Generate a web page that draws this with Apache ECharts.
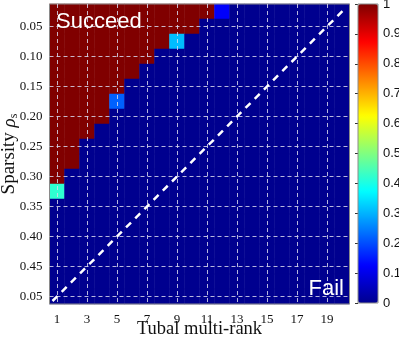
<!DOCTYPE html>
<html><head><meta charset="utf-8">
<script src="https://cdn.jsdelivr.net/npm/echarts@6/dist/echarts.min.js"></script>
<style>html,body{margin:0;padding:0;background:#fff}#c{width:399px;height:337px}</style>
</head><body><div id="c"></div>
<script>
// Tubal multi-rank (columns)
var rankCategories = ['1','2','3','4','5','6','7','8','9','10','11','12','13','14','15','16','17','18','19','20'];
// Sparsity rho_s (rows, top to bottom)
var sparsityCategories = ['0.025','0.05','0.075','0.10','0.125','0.15','0.175','0.20','0.225','0.25','0.275','0.30','0.325','0.35','0.375','0.40','0.425','0.45','0.475','0.50'];
// tick labels shown on the y axis (as printed in the figure)
var sparsityTickLabels = {'0.05':'0.05','0.10':'0.10','0.15':'0.15','0.20':'0.20','0.25':'0.25','0.30':'0.30','0.35':'0.35','0.40':'0.40','0.45':'0.45','0.50':'0.05'};
var rankTickCategories = ['1','3','5','7','9','11','13','15','17','19'];
var sparsityGridCategories = ['0.05','0.10','0.15','0.20','0.25','0.30','0.35','0.40','0.45','0.50'];
// success rate, one row per sparsity value, one entry per rank
var successRate = [
  [1,1,1,1,1,1,1,1,1,1,1,0.12,0,0,0,0,0,0,0,0],
  [1,1,1,1,1,1,1,1,1,1,0,0,0,0,0,0,0,0,0,0],
  [1,1,1,1,1,1,1,1,0.31,0,0,0,0,0,0,0,0,0,0,0],
  [1,1,1,1,1,1,1,0,0,0,0,0,0,0,0,0,0,0,0,0],
  [1,1,1,1,1,1,0,0,0,0,0,0,0,0,0,0,0,0,0,0],
  [1,1,1,1,1,0,0,0,0,0,0,0,0,0,0,0,0,0,0,0],
  [1,1,1,1,0.22,0,0,0,0,0,0,0,0,0,0,0,0,0,0,0],
  [1,1,1,1,0,0,0,0,0,0,0,0,0,0,0,0,0,0,0,0],
  [1,1,1,0,0,0,0,0,0,0,0,0,0,0,0,0,0,0,0,0],
  [1,1,0,0,0,0,0,0,0,0,0,0,0,0,0,0,0,0,0,0],
  [1,1,0,0,0,0,0,0,0,0,0,0,0,0,0,0,0,0,0,0],
  [1,0,0,0,0,0,0,0,0,0,0,0,0,0,0,0,0,0,0,0],
  [0.42,0,0,0,0,0,0,0,0,0,0,0,0,0,0,0,0,0,0,0],
  [0,0,0,0,0,0,0,0,0,0,0,0,0,0,0,0,0,0,0,0],
  [0,0,0,0,0,0,0,0,0,0,0,0,0,0,0,0,0,0,0,0],
  [0,0,0,0,0,0,0,0,0,0,0,0,0,0,0,0,0,0,0,0],
  [0,0,0,0,0,0,0,0,0,0,0,0,0,0,0,0,0,0,0,0],
  [0,0,0,0,0,0,0,0,0,0,0,0,0,0,0,0,0,0,0,0],
  [0,0,0,0,0,0,0,0,0,0,0,0,0,0,0,0,0,0,0,0],
  [0,0,0,0,0,0,0,0,0,0,0,0,0,0,0,0,0,0,0,0]
];
// diagonal reference line (fraction of plot)
var diagX = [0.01, 0.99];
var diagY = [0.01, 0.99];
var jetColors = ['#00008f','#0000ff','#0080ff','#00ffff','#80ff80','#ffff00','#ff8000','#ff0000','#800000'];

var heatData = [];
successRate.forEach(function(row, r){
  row.forEach(function(v, c){ heatData.push([c, r, v]); });
});

var chart = echarts.init(document.getElementById('c'));
var gridLine = {type:[4,3], color:'rgba(215,215,235,0.85)', width:1};
var serif = 'Liberation Serif';
chart.setOption({
  animation:false,
  grid:[
    {left:49.5, top:4, width:300, height:300, show:true, borderColor:'#8a8a8a', borderWidth:1, z:5, backgroundColor:'transparent', containLabel:false, outerBoundsMode:'none'},
    {left:358, top:4, width:20, height:299, show:true, borderColor:'#8a8a8a', borderWidth:1, z:5, backgroundColor:'transparent', containLabel:false, outerBoundsMode:'none'}
  ],
  xAxis:[
    {type:'category', gridIndex:0, data:rankCategories,
     axisLine:{show:false}, axisTick:{show:false}, splitLine:{show:false},
     axisLabel:{interval:1, margin:9, color:'#111', fontFamily:serif, fontSize:13},
     name:'Tubal multi-rank', nameLocation:'middle', nameGap:16, nameMoveOverlap:false,
     nameTextStyle:{fontFamily:serif, fontSize:18.5, color:'#111'}},
    {type:'value', gridIndex:0, min:0, max:1, show:false},
    {type:'value', gridIndex:1, min:0, max:1, show:false}
  ],
  yAxis:[
    {type:'category', gridIndex:0, data:sparsityCategories, inverse:true,
     axisLine:{show:false}, axisTick:{show:false}, splitLine:{show:false},
     axisLabel:{interval:function(i, v){ return sparsityTickLabels[v] !== undefined; },
       formatter:function(v){ return sparsityTickLabels[v] || ''; },
       margin:7, color:'#111', fontFamily:serif, fontSize:13},
     name:'{a|Sparsity }{i|ρ}{s|s}', nameLocation:'middle', nameGap:30, nameRotate:90, nameMoveOverlap:false,
     nameTextStyle:{rich:{
       a:{fontFamily:serif, fontSize:19, color:'#111'},
       i:{fontFamily:serif, fontSize:19, fontStyle:'italic', color:'#111'},
       s:{fontFamily:serif, fontSize:12, color:'#111', padding:[8,0,0,0]}
     }}},
    {type:'value', gridIndex:0, min:0, max:1, show:false},
    {type:'value', gridIndex:1, min:0, max:1, interval:0.1, position:'right',
     axisLine:{show:false}, splitLine:{show:false},
     axisTick:{show:true, inside:true, length:3, lineStyle:{color:'#333'}},
     axisLabel:{margin:5, color:'#111', fontFamily:'Liberation Sans', fontSize:13}}
  ],
  visualMap:{type:'continuous', min:0, max:1, calculable:false, orient:'vertical',
    left:358, top:4, itemWidth:20, itemHeight:299, padding:0, text:null, seriesIndex:0,
    inRange:{color:jetColors}, hoverLink:false},
  series:[
    {type:'heatmap', xAxisIndex:0, yAxisIndex:0, data:heatData, itemStyle:{borderWidth:0},
     emphasis:{disabled:true},
     markLine:{silent:true, symbol:['none','none'], label:{show:false}, lineStyle:gridLine,
       data: rankTickCategories.map(function(c){ return {xAxis:c}; })
         .concat(sparsityGridCategories.map(function(c){ return {yAxis:c}; }))}},
    {type:'line', xAxisIndex:1, yAxisIndex:1, data:diagX.map(function(x,i){return [x, diagY[i]];}),
     symbol:'none', silent:true, z:6,
     lineStyle:{color:'#fff', width:2.5, type:[7,6]}},
    {type:'line', xAxisIndex:2, yAxisIndex:2, data:[], symbol:'none'}
  ],
  graphic:[
    {type:'text', z:100, style:{text:'Succeed', x:56, y:22, fill:'#fff', font:'22px "Liberation Sans"', verticalAlign:'middle', align:'left'}},
    {type:'text', z:100, style:{text:'Fail', x:344, y:289, fill:'#fff', font:'22px "Liberation Sans"', verticalAlign:'middle', align:'right'}}
  ]
});
</script></body></html>
